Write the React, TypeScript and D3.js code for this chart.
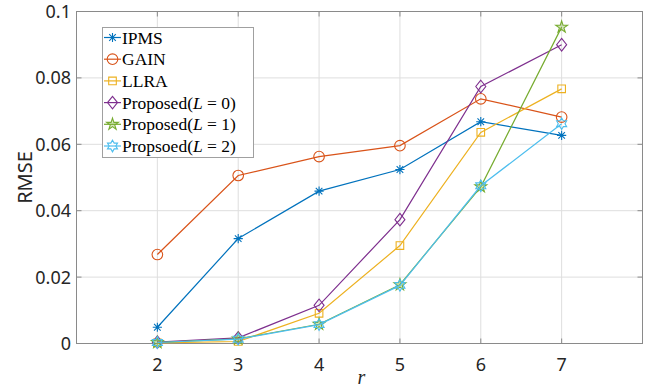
import React, { useEffect, useRef } from "react";
import * as d3 from "d3";

// x values (r) and RMSE for each method
const rValues = [2, 3, 4, 5, 6, 7];
const ipms = [0.0049, 0.0316, 0.0459, 0.0524, 0.0668, 0.0627];
const gain = [0.0268, 0.0506, 0.0563, 0.0596, 0.0737, 0.0682];
const llra = [0.0002, 0.0006, 0.0091, 0.0295, 0.0636, 0.0767];
const propL0 = [0.0004, 0.0017, 0.0115, 0.0373, 0.0774, 0.09];
const propL1 = [0.0003, 0.0014, 0.0058, 0.0177, 0.0472, 0.0953];
const propL2 = [0.0003, 0.0013, 0.0057, 0.0175, 0.0475, 0.0662];

const xTicks = [2, 3, 4, 5, 6, 7];
const yTicks = [0, 0.02, 0.04, 0.06, 0.08, 0.1];
const yTickLabels = ["0", "0.02", "0.04", "0.06", "0.08", "0.1"];

type Marker = "asterisk" | "circle" | "square" | "diamond" | "pentagram" | "hexagram";

const series: { name: string; sub?: string; values: number[]; color: string; marker: Marker }[] = [
  { name: "IPMS", values: ipms, color: "#0072BD", marker: "asterisk" },
  { name: "GAIN", values: gain, color: "#D95319", marker: "circle" },
  { name: "LLRA", values: llra, color: "#EDB120", marker: "square" },
  { name: "Proposed", sub: "0", values: propL0, color: "#7E2F8E", marker: "diamond" },
  { name: "Proposed", sub: "1", values: propL1, color: "#77AC30", marker: "pentagram" },
  { name: "Propsoed", sub: "2", values: propL2, color: "#4DBEEE", marker: "hexagram" },
];

// marker outline centred at the origin
const markerPath = (m: Marker): string => {
  const p = d3.path();
  if (m === "asterisk") {
    const a = 4.6, b = 3.3;
    p.moveTo(-a, 0); p.lineTo(a, 0);
    p.moveTo(0, -a); p.lineTo(0, a);
    p.moveTo(-b, -b); p.lineTo(b, b);
    p.moveTo(-b, b); p.lineTo(b, -b);
  } else if (m === "circle") {
    p.arc(0, 0, 5.3, 0, Math.PI * 2);
    p.closePath();
  } else if (m === "square") {
    p.rect(-3.8, -3.8, 7.6, 7.6);
  } else if (m === "diamond") {
    p.moveTo(0, -6.3); p.lineTo(5, 0); p.lineTo(0, 6.3); p.lineTo(-5, 0); p.closePath();
  } else if (m === "pentagram") {
    const R = 6.2, r = R * 0.382;
    for (let i = 0; i < 10; i++) {
      const rad = i % 2 === 0 ? R : r;
      const ang = -Math.PI / 2 + (i * Math.PI) / 5;
      if (i === 0) p.moveTo(rad * Math.cos(ang), rad * Math.sin(ang));
      else p.lineTo(rad * Math.cos(ang), rad * Math.sin(ang));
    }
    p.closePath();
  } else {
    const R = 5.8, r = R / Math.sqrt(3);
    for (let i = 0; i < 12; i++) {
      const rad = i % 2 === 0 ? R : r;
      const ang = -Math.PI / 2 + (i * Math.PI) / 6;
      if (i === 0) p.moveTo(rad * Math.cos(ang), rad * Math.sin(ang));
      else p.lineTo(rad * Math.cos(ang), rad * Math.sin(ang));
    }
    p.closePath();
  }
  return p.toString();
};

const App = () => {
  const ref = useRef<SVGSVGElement>(null);

  useEffect(() => {
    const svg = d3.select(ref.current);
    svg.selectAll("*").remove();

    const left = 76.5, right = 642.5, top = 11.5, bottom = 343.5;
    const x = d3.scaleLinear().domain([1, 8]).range([left, right]);
    const y = d3.scaleLinear().domain([0, 0.1]).range([bottom, top]);

    const tickFont = "'Liberation Sans Narrow', 'Noto Sans', sans-serif";
    const serif = "'Liberation Serif', 'DejaVu Serif', serif";

    svg.append("rect").attr("x", 0).attr("y", 0).attr("width", 660).attr("height", 390).attr("fill", "#fff");

    // grid
    const grid = svg.append("g").attr("stroke", "#dedede").attr("stroke-width", 1);
    xTicks.forEach((t) => grid.append("line").attr("x1", x(t)).attr("x2", x(t)).attr("y1", top).attr("y2", bottom));
    yTicks.slice(1, -1).forEach((t) => grid.append("line").attr("x1", left).attr("x2", right).attr("y1", y(t)).attr("y2", y(t)));

    // box + ticks
    svg.append("rect").attr("x", left).attr("y", top).attr("width", right - left).attr("height", bottom - top)
      .attr("fill", "none").attr("stroke", "#8a8a8a").attr("stroke-width", 1);
    const tk = svg.append("g").attr("stroke", "#8a8a8a").attr("stroke-width", 1);
    xTicks.forEach((t) => {
      tk.append("line").attr("x1", x(t)).attr("x2", x(t)).attr("y1", bottom).attr("y2", bottom - 5);
      tk.append("line").attr("x1", x(t)).attr("x2", x(t)).attr("y1", top).attr("y2", top + 5);
    });
    yTicks.forEach((t) => {
      tk.append("line").attr("x1", left).attr("x2", left + 5).attr("y1", y(t)).attr("y2", y(t));
      tk.append("line").attr("x1", right).attr("x2", right - 5).attr("y1", y(t)).attr("y2", y(t));
    });

    // tick labels
    svg.append("g").selectAll("text").data(xTicks).enter().append("text")
      .attr("x", (d) => x(d)).attr("y", 371).attr("text-anchor", "middle")
      .attr("font-family", tickFont).attr("font-size", 18).attr("fill", "#262626")
      .text((d) => String(d));
    svg.append("g").selectAll("text").data(yTicks).enter().append("text")
      .attr("x", 71).attr("y", (d) => y(d) + 6.5).attr("text-anchor", "end")
      .attr("font-family", tickFont).attr("font-size", 18).attr("fill", "#262626")
      .text((d, i) => yTickLabels[i]);

    // axis labels
    svg.append("text").attr("transform", `translate(32,${(top + bottom) / 2}) rotate(-90)`)
      .attr("text-anchor", "middle").attr("font-family", tickFont).attr("font-size", 20).attr("fill", "#262626")
      .text("RMSE");
    svg.append("text").attr("x", (left + right) / 2 + 2).attr("y", 384).attr("text-anchor", "middle")
      .attr("font-family", serif).attr("font-style", "italic").attr("font-size", 20).attr("fill", "#262626")
      .text("r");

    // series
    const line = d3.line<number>().x((d, i) => x(rValues[i])).y((d) => y(d));
    series.forEach((s) => {
      const g = svg.append("g");
      g.append("path").attr("d", line(s.values)).attr("fill", "none").attr("stroke", s.color).attr("stroke-width", 1.2);
      g.selectAll("path.m").data(s.values).enter().append("path").attr("class", "m")
        .attr("d", markerPath(s.marker))
        .attr("transform", (d, i) => `translate(${x(rValues[i])},${y(d)})`)
        .attr("fill", s.marker === "pentagram" ? s.color : "none")
        .attr("fill-opacity", s.marker === "pentagram" ? 0.3 : 0)
        .attr("stroke", s.color).attr("stroke-width", 1.1);
    });

    // legend
    const lg = svg.append("g");
    lg.append("rect").attr("x", 102.5).attr("y", 27.5).attr("width", 151).attr("height", 130)
      .attr("fill", "#fff").attr("stroke", "#a0a0a0").attr("stroke-width", 1);
    series.forEach((s, i) => {
      const cy = 37.5 + i * 21.7;
      lg.append("line").attr("x1", 104).attr("x2", 121).attr("y1", cy).attr("y2", cy)
        .attr("stroke", s.color).attr("stroke-width", 1.2);
      lg.append("path").attr("d", markerPath(s.marker)).attr("transform", `translate(112.5,${cy})`)
        .attr("fill", s.marker === "pentagram" ? s.color : "none")
        .attr("fill-opacity", s.marker === "pentagram" ? 0.3 : 0)
        .attr("stroke", s.color).attr("stroke-width", 1.1);
      const t = lg.append("text").attr("x", 122).attr("y", cy + 6)
        .attr("font-family", serif).attr("font-size", 17.5).attr("fill", "#000");
      t.append("tspan").text(s.name);
      if (s.sub) {
        t.append("tspan").text("(");
        t.append("tspan").attr("font-style", "italic").text("L");
        t.append("tspan").text(` = ${s.sub})`);
      }
    });
  }, []);

  return (
    <svg ref={ref} width={660} height={390} style={{ position: "absolute", left: 0, top: 0 }} />
  );
};

export default App;
